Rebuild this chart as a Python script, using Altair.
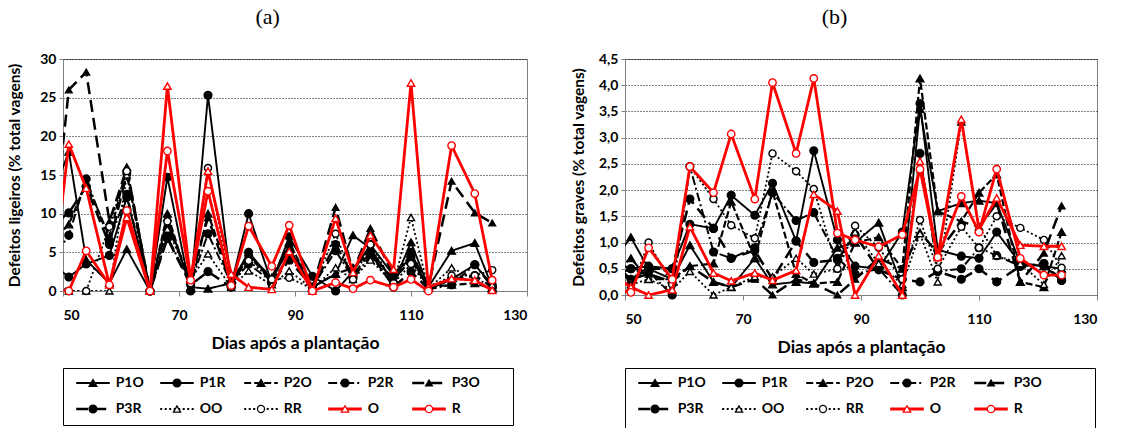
import altair as alt
import pandas as pd

# Sampling days (days after planting)
dias = [51, 54, 58, 61, 65, 68, 72, 75, 79, 82, 86, 89, 93, 97, 100, 103, 107, 110, 113, 117, 121, 124]
# Previous sampling, left of the axis start; its segment is clipped by the plot frame
dia_anterior = 49

series = ["P1O", "P1R", "P2O", "P2R", "P3O", "P3R", "OO", "RR", "O", "R"]

# Light defects (% of total pods)
ligeiros = {
    "P1O": [18.0, 4.0, 1.0, 5.4, 0.0, 9.5, 0.5, 0.3, 1.0, 5.0, 1.5, 5.5, 0.5, 2.2, 7.2, 5.5, 1.0, 6.3, 0.5, 5.2, 6.2, 0.5],
    "P1R": [1.8, 3.5, 4.6, 12.1, 0.0, 14.7, 0.0, 25.3, 0.8, 10.0, 1.0, 7.0, 1.9, 0.0, 2.5, 6.0, 2.0, 4.4, 0.3, 1.5, 3.4, 0.8],
    "P2O": [8.6, 14.0, 7.0, 16.0, 0.0, 10.0, 0.3, 10.0, 1.5, 4.5, 1.5, 6.3, 0.5, 2.2, 3.0, 5.0, 1.5, 4.0, 0.5, 0.8, 1.0, 0.3],
    "P2R": [7.2, 14.5, 6.5, 12.5, 0.0, 7.0, 1.0, 7.4, 1.0, 3.5, 1.2, 4.5, 0.5, 5.2, 1.7, 4.5, 1.0, 5.0, 0.2, 0.8, 3.4, 0.5],
    "P3O": [26.0, 28.3, 9.0, 15.9, 0.0, 8.5, 1.5, 9.5, 0.8, 4.5, 1.8, 6.0, 0.3, 10.8, 2.5, 8.1, 2.0, 5.0, 0.5, 14.2, 10.1, 8.8],
    "P3R": [10.1, 13.5, 6.0, 15.2, 0.0, 6.8, 0.8, 2.5, 0.5, 5.0, 1.0, 4.0, 0.5, 6.0, 2.0, 5.0, 0.5, 2.5, 0.3, 1.5, 2.0, 0.5],
    "OO":  [0.0, 0.0, 0.0, 15.0, 0.0, 8.0, 1.5, 4.8, 0.5, 2.6, 0.8, 2.6, 0.3, 3.0, 1.5, 4.0, 1.0, 9.5, 0.3, 3.0, 1.5, 0.8],
    "RR":  [0.0, 0.0, 8.3, 15.5, 0.0, 9.0, 1.0, 15.9, 0.5, 3.9, 1.5, 1.7, 0.3, 7.4, 1.5, 6.0, 1.0, 3.5, 0.3, 2.0, 2.0, 2.7],
    "O":   [19.0, 13.3, 0.8, 9.5, 0.0, 26.5, 1.5, 15.5, 2.2, 0.5, 0.2, 5.1, 0.0, 9.4, 2.4, 7.2, 2.8, 26.9, 0.5, 1.6, 1.4, 0.1],
    "R":   [0.0, 5.2, 0.8, 10.4, 0.0, 18.1, 1.4, 12.9, 0.7, 8.4, 3.2, 8.5, 0.0, 1.1, 0.3, 1.4, 0.5, 1.5, 0.0, 18.8, 12.6, 1.4],
}
ligeiros_anterior = {"P1O": 14.0, "P1R": 3.0, "P2O": 7.0, "P2R": 5.0, "P3O": 12.0,
                     "P3R": 9.0, "OO": 1.0, "RR": 1.0, "O": 6.0, "R": 0.0}

# Serious defects (% of total pods)
graves = {
    "P1O": [1.1, 0.5, 0.3, 0.95, 0.25, 0.15, 0.7, 0.2, 0.25, 0.22, 0.9, 1.0, 1.38, 0.15, 3.55, 1.6, 1.75, 1.8, 1.75, 0.6, 0.55, 0.5],
    "P1R": [0.5, 0.55, 0.5, 1.35, 1.27, 1.9, 1.52, 2.13, 1.03, 2.75, 1.05, 0.55, 0.5, 1.2, 3.65, 0.86, 0.74, 0.7, 1.2, 0.6, 0.55, 0.28],
    "P2O": [0.7, 0.3, 0.3, 0.55, 0.6, 1.78, 0.7, 1.98, 0.4, 0.22, 0.25, 1.0, 1.1, 0.5, 4.13, 1.6, 1.4, 1.95, 2.3, 0.25, 0.15, 1.2],
    "P2R": [0.5, 0.45, 0.0, 2.45, 0.82, 0.7, 0.9, 1.95, 1.42, 1.57, 0.7, 0.4, 0.5, 0.0, 2.7, 0.45, 0.5, 0.9, 0.75, 0.55, 0.6, 0.28],
    "P3O": [0.3, 0.4, 0.25, 0.55, 0.25, 0.15, 0.3, 0.0, 0.3, 0.22, 0.0, 0.3, 0.7, 0.5, 1.2, 0.8, 1.4, 1.3, 1.75, 0.25, 0.8, 1.7],
    "P3R": [0.3, 0.5, 0.5, 1.83, 1.27, 0.7, 0.85, 0.3, 1.03, 0.62, 0.67, 1.15, 0.48, 0.3, 0.25, 0.45, 0.3, 0.5, 0.25, 0.55, 0.6, 0.28],
    "OO":  [0.2, 0.3, 0.1, 0.45, 0.0, 0.15, 0.35, 0.35, 0.7, 0.4, 0.5, 1.2, 0.6, 0.2, 1.17, 0.25, 3.3, 1.3, 0.75, 0.6, 0.2, 0.75],
    "RR":  [0.1, 1.0, 0.2, 2.45, 1.83, 1.33, 1.08, 2.7, 2.36, 2.02, 0.5, 1.32, 0.9, 0.3, 1.43, 0.5, 1.3, 0.9, 1.5, 1.28, 1.05, 0.52],
    "O":   [0.15, 0.0, 0.1, 1.3, 0.42, 0.27, 0.42, 0.28, 0.47, 1.92, 1.6, 0.0, 0.75, 0.0, 2.55, 0.72, 3.35, 1.25, 1.85, 0.95, 0.93, 0.93],
    "R":   [0.05, 0.9, 0.3, 2.45, 1.95, 3.07, 1.83, 4.05, 2.7, 4.13, 1.18, 1.05, 0.92, 1.15, 2.4, 0.72, 1.88, 1.2, 2.4, 0.7, 0.38, 0.38],
}
graves_anterior = {"P1O": 0.8, "P1R": 0.6, "P2O": 0.5, "P2R": 0.4, "P3O": 0.4,
                   "P3R": 0.5, "OO": 0.3, "RR": 0.2, "O": 0.3, "R": 0.1}

# Per-series styling
cores = ["black"] * 8 + ["#ff0000"] * 2
tracos = [[1, 0], [1, 0], [7, 3], [9, 3, 2, 3], [12, 6], [12, 6], [2, 2.5], [2, 2.5], [1, 0], [1, 0]]
formas = ["triangle-up", "circle"] * 5
preenchimentos = ["black"] * 6 + ["white"] * 4
espessuras = [1.9, 1.9, 2.2, 2.0, 2.5, 2.5, 1.8, 1.8, 2.8, 2.8]
tamanhos = [60, 60, 60, 60, 45, 60, 50, 50, 55, 55]
vermelhas = {"O", "R"}

FONTE = "Lato"


def estilo(i):
    return dict(cor=cores[i], traco=tracos[i], forma=formas[i],
                preench=preenchimentos[i], esp=espessuras[i], tam=tamanhos[i])


def tabela(valores, anteriores):
    linhas = []
    for i, s in enumerate(series):
        linhas.append(dict(serie=s, dia=dia_anterior, valor=anteriores[s], ordem=0, **estilo(i)))
        for k, (d, v) in enumerate(zip(dias, valores[s])):
            linhas.append(dict(serie=s, dia=d, valor=v, ordem=k + 1, **estilo(i)))
    return pd.DataFrame(linhas)


def painel(valores, anteriores, ymax, passo, titulo_y, letra, altura, largura, rotulo, pad_titulo):
    tab = tabela(valores, anteriores)
    x = alt.X("dia:Q", scale=alt.Scale(domain=[50, 130], nice=False, zero=False),
              axis=alt.Axis(values=[50, 70, 90, 110, 130], title="Dias após a plantação",
                            grid=False, tickSize=5, labelPadding=12, titlePadding=12))
    ticks = [round(k * passo, 2) for k in range(int(round(ymax / passo)) + 1)]
    y = alt.Y("valor:Q", scale=alt.Scale(domain=[0, ymax], nice=False, zero=True),
              axis=alt.Axis(values=ticks, title=titulo_y, grid=True, gridColor="black",
                            gridDash=[1, 2], gridWidth=1, tickSize=4, labelPadding=3,
                            titlePadding=pad_titulo, labelExpr=rotulo, titleFontSize=15.5))
    camadas = []
    for grupo in (False, True):
        sub = tab[tab.serie.isin(vermelhas) == grupo]
        linha = alt.Chart(sub).mark_line(clip=True).encode(
            x=x, y=y, detail="serie:N", order="ordem:Q",
            color=alt.Color("cor:N", scale=None),
            strokeDash=alt.StrokeDash("traco:N", scale=None),
            size=alt.Size("esp:Q", scale=None),
        )
        pontos = alt.Chart(sub[sub.dia >= 50]).mark_point(opacity=1, strokeWidth=1.4).encode(
            x=x, y=y,
            shape=alt.Shape("forma:N", scale=None),
            stroke=alt.Stroke("cor:N", scale=None),
            fill=alt.Fill("preench:N", scale=None),
            size=alt.Size("tam:Q", scale=None),
        )
        camadas += [linha, pontos]
    return alt.layer(*camadas).properties(
        width=largura, height=altura,
        title=alt.TitleParams(letra, frame="bounds"),
    )


def legenda(largura, altura):
    linhas = []
    for i, s in enumerate(series):
        c, r = i % 5, i // 5
        linhas.append(dict(serie=s, col=c, lin=r, x1=c - 0.2, x2=c + 0.2, xt=c + 0.27, **estilo(i)))
    leg = pd.DataFrame(linhas)
    px_col = 84.0
    xs = alt.Scale(domain=[-30 / px_col, (largura - 30) / px_col], nice=False, zero=False)
    ys = alt.Scale(domain=[-15 / 26, (altura - 15) / 26], nice=False, zero=False, reverse=True)
    base = alt.Chart(leg)
    traco = base.mark_rule().encode(
        x=alt.X("x1:Q", scale=xs, axis=None), x2="x2:Q",
        y=alt.Y("lin:Q", scale=ys, axis=None),
        color=alt.Color("cor:N", scale=None),
        strokeDash=alt.StrokeDash("traco:N", scale=None),
        size=alt.Size("esp:Q", scale=None),
    )
    simb = base.mark_point(opacity=1, strokeWidth=1.3).encode(
        x=alt.X("col:Q", scale=xs, axis=None),
        y=alt.Y("lin:Q", scale=ys, axis=None),
        shape=alt.Shape("forma:N", scale=None),
        stroke=alt.Stroke("cor:N", scale=None),
        fill=alt.Fill("preench:N", scale=None),
        size=alt.Size("tam:Q", scale=None),
    )
    texto = base.mark_text(align="left", baseline="middle", font=FONTE, fontWeight="bold",
                           fontSize=14, color="black").encode(
        x=alt.X("xt:Q", scale=xs, axis=None),
        y=alt.Y("lin:Q", scale=ys, axis=None),
        text="serie:N",
    )
    return alt.layer(traco, simb, texto).properties(
        width=largura, height=altura,
        view=alt.ViewBackground(stroke="black", strokeWidth=1),
    )


rotulo_a = "format(datum.value, 'd')"
rotulo_b = "replace(format(datum.value, '.1f'), '.', ',')"

painel_a = painel(ligeiros, ligeiros_anterior, 30, 5, "Defeitos ligeiros (% total vagens)", "(a)",
                  232, 464, rotulo_a, 17)
painel_b = painel(graves, graves_anterior, 4.5, 0.5, "Defeitos graves (% total vagens)", "(b)",
                  236, 472, rotulo_b, 12)
legenda_a = legenda(450, 57)
legenda_b = legenda(470, 70)

chart = alt.concat(
    painel_a, painel_b, legenda_a, legenda_b,
    columns=2, bounds="flush", spacing={"row": 73, "column": 98},
).properties(
    padding={"left": 7, "top": 5, "right": 0, "bottom": 0},
).configure(
    font=FONTE,
).configure_axis(
    labelFont=FONTE, labelFontWeight="bold", labelFontSize=14, labelColor="black",
    titleFont=FONTE, titleFontWeight="bold", titleFontSize=17.5, titleColor="black",
    domainColor="#808080", tickColor="#808080",
).configure_view(
    stroke="#808080",
).configure_title(
    font="Liberation Serif", fontSize=22, fontWeight="normal", color="black",
    anchor="middle", offset=23,
)

chart.save("out.html", embed_options={"renderer": "svg", "actions": False})
